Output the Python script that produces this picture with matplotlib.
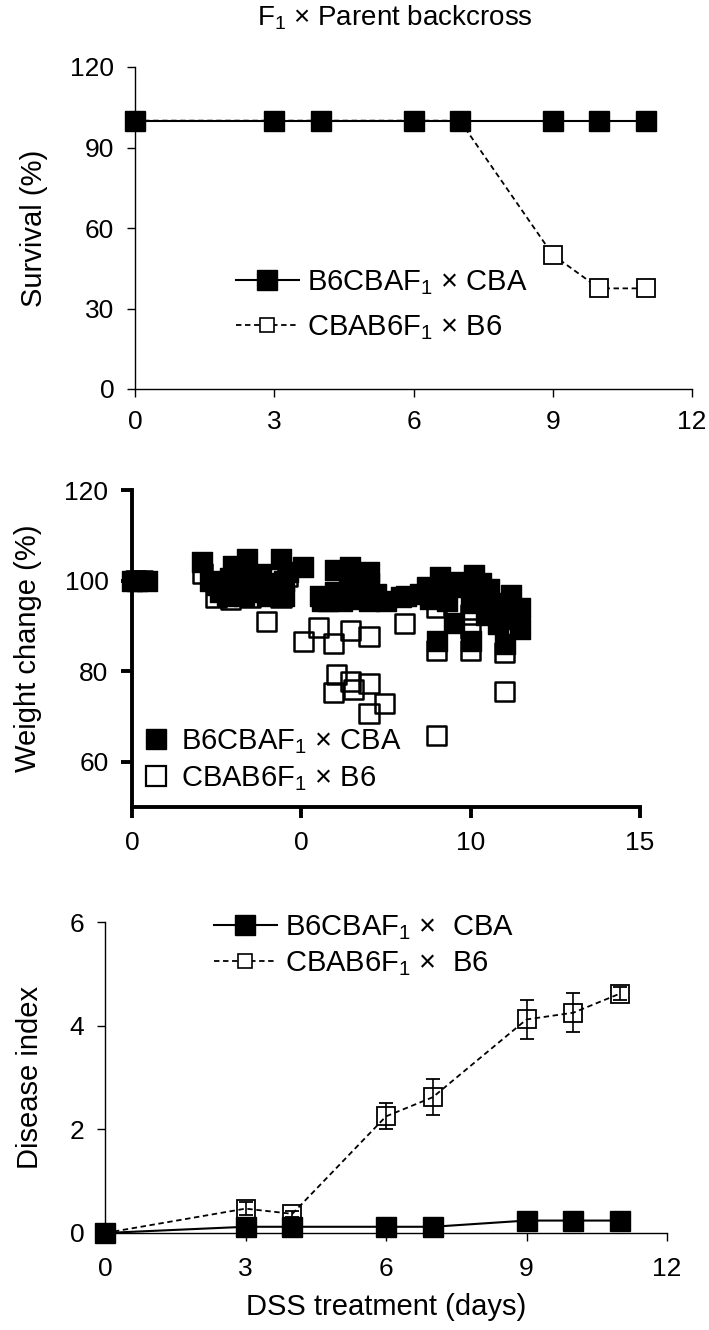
import matplotlib
matplotlib.use('Agg')
import matplotlib.pyplot as plt
from matplotlib.lines import Line2D

plt.rcParams['font.family'] = ['Liberation Sans', 'DejaVu Sans']
plt.rcParams['mathtext.default'] = 'regular'
plt.rcParams['font.size'] = 19

# survival (top panel)
days = [0, 3, 4, 6, 7, 9, 10, 11]
surv_b6cba = [100, 100, 100, 100, 100, 100, 100, 100]
surv_cbab6 = [100, 100, 100, 100, 100, 50, 37.5, 37.5]

# weight change scatter (middle panel)
wt_b6cba_x = [0, 0.15, 0.45,
              2.07, 2.98, 3.4, 4.4, 5.05, 2.5, 2.6, 2.9, 3.0, 3.2, 3.5, 3.6, 3.8, 4.0, 4.2,
              4.5, 4.4, 2.8, 3.3, 4.0, 4.5, 2.3, 4.6,
              6.0, 6.45, 7.0, 5.55, 5.8, 6.0, 6.2, 6.5, 6.6, 6.8, 7.0, 7.2, 7.5, 5.6, 6.4, 7.0,
              7.95, 8.1,
              9.1, 10.1, 8.7, 9.5, 10.55, 11.2, 11.45, 11.45, 10.45, 9.5, 10.8, 9.0, 10.0, 11.0,
              8.5, 9.0, 9.8, 10.2, 10.0, 10.7, 11.0, 9.3, 8.8, 10.3, 11.0]
wt_b6cba_y = [100, 100, 100,
              104.2, 103.3, 104.8, 104.8, 102.9, 99, 97.5, 100.5, 98, 101, 99, 97.5, 101.5, 99.5, 98,
              100, 97.5, 96.5, 96.5, 96.5, 96.7, 100, 102,
              102.4, 103.1, 102, 96.5, 95.5, 97.5, 95.5, 96, 98.5, 97, 95.5, 97, 95.5, 95.5, 99.5, 99.5,
              96.3, 96.7,
              100.7, 101.3, 98.5, 99.6, 98.2, 96.9, 94.0, 89.2, 92.3, 90.7, 90.5, 86.6, 86.6, 85.9,
              97, 97.5, 98.5, 97, 95, 95, 93, 95.5, 96, 99.5, 91.5]
wt_cbab6_x = [0.1, 0.3,
              2.07, 2.48, 2.92, 3.5, 4.4, 3.98, 4.6, 3.3,
              5.07, 5.5, 5.95, 6.45, 7.0, 8.05, 6.05, 5.95, 6.45, 6.55, 7.0, 7.45, 7.0,
              9.0, 10.0, 11.0, 11.0, 9.0, 9.0, 9.5, 10.0, 10.0, 11.0]
wt_cbab6_y = [100, 100,
              101.5, 96.3, 95.8, 96.2, 96.2, 91.0, 101.0, 100.5,
              86.6, 89.6, 86.1, 89.0, 87.7, 90.5, 79.3, 75.3, 77.8, 76.0, 77.3, 72.9, 70.7,
              84.6, 84.6, 84.1, 75.5, 65.8, 94, 94.5, 92.5, 89.5, 93.5]
wt_xticklabels = ['0', '0', '10', '15']

# disease index (bottom panel)
dis_b6cba = [0, 0.12, 0.12, 0.12, 0.12, 0.24, 0.24, 0.24]
dis_cbab6 = [0, 0.47, 0.37, 2.25, 2.62, 4.12, 4.25, 4.62]
dis_cbab6_err = [0, 0.12, 0.06, 0.25, 0.35, 0.38, 0.38, 0.12]

lab1 = 'B6CBAF$_1$ × CBA'
lab2 = 'CBAB6F$_1$ × B6'

W, H = 709, 1330
fig = plt.figure(figsize=(W / 100, H / 100), dpi=100)


def box(l, t, r, b):
    return [l / W, 1 - b / H, (r - l) / W, (b - t) / H]


# ---- top: survival ----
ax1 = fig.add_axes(box(135, 67, 692, 389))
ax1.plot(days, surv_cbab6, ls='--', color='black', lw=1.3, marker='s', ms=13,
         mfc='white', mec='black', mew=1.3, clip_on=False, dashes=(3, 2))
ax1.plot(days, surv_b6cba, ls='-', color='black', lw=1.5, marker='s', ms=14,
         mfc='black', mec='black', clip_on=False)
ax1.set_xlim(0, 12)
ax1.set_ylim(0, 120)
ax1.set_xticks([0, 3, 6, 9, 12])
ax1.set_yticks([0, 30, 60, 90, 120])
ax1.set_ylabel('Survival (%)', fontsize=21)
ax1.yaxis.set_label_coords(-0.156, 0.5)
h1 = [Line2D([], [], color='black', lw=1.5, marker='s', ms=14, mfc='black'),
      Line2D([], [], color='black', lw=1.3, ls='--', dashes=(3, 2), marker='s', ms=10,
             mfc='white', mew=1.2)]
ax1.legend(h1, [lab1, lab2], loc='center left', bbox_to_anchor=(0.181, 0.261),
           frameon=False, fontsize=21, borderpad=0, borderaxespad=0,
           handlelength=2.15, handletextpad=0.3, labelspacing=0.55)
fig.text(395 / W, 1 - 18 / H, 'F$_1$ × Parent backcross', ha='center', va='center', fontsize=20)

# ---- middle: weight change ----
ax2 = fig.add_axes(box(132, 490, 640, 807))
ax2.scatter(wt_cbab6_x, wt_cbab6_y, marker='s', s=190, facecolors='none',
            edgecolors='black', linewidths=1.8, clip_on=False, zorder=2)
ax2.scatter(wt_b6cba_x, wt_b6cba_y, marker='s', s=190, facecolors='black',
            edgecolors='black', linewidths=1.0, clip_on=False, zorder=3)
ax2.set_xlim(0, 15)
ax2.set_ylim(50, 120)
ax2.set_xticks([0, 5, 10, 15])
ax2.set_xticklabels(wt_xticklabels)
ax2.set_yticks([60, 80, 100, 120])
ax2.set_ylabel('Weight change (%)', fontsize=21)
ax2.yaxis.set_label_coords(-0.178, 0.5)
for s in ['left', 'bottom']:
    ax2.spines[s].set_linewidth(2.8)
ax2.tick_params(width=2.8, length=8, pad=9)
h2 = [Line2D([], [], ls='none', marker='s', ms=14, mfc='black', mec='black'),
      Line2D([], [], ls='none', marker='s', ms=14, mfc='white', mec='black', mew=1.6)]
ax2.legend(h2, [lab1, lab2], loc='center left', bbox_to_anchor=(0.018, 0.148),
           frameon=False, fontsize=21, borderpad=0, borderaxespad=0,
           handlelength=1.0, handletextpad=0.38, labelspacing=0.25)

# ---- bottom: disease index ----
ax3 = fig.add_axes(box(105, 922, 667, 1233))
ax3.plot(days, dis_b6cba, ls='-', color='black', lw=1.5, marker='s', ms=14,
         mfc='black', mec='black', clip_on=False, zorder=2)
ax3.errorbar(days, dis_cbab6, yerr=dis_cbab6_err, ls='--', dashes=(3, 2), color='black',
             lw=1.3, marker='s', ms=13, mfc='none', mec='black', mew=1.3,
             ecolor='black', elinewidth=1.2, capsize=5, clip_on=False, zorder=3)
ax3.set_xlim(0, 12)
ax3.set_ylim(0, 6)
ax3.set_xticks([0, 3, 6, 9, 12])
ax3.set_yticks([0, 2, 4, 6])
ax3.set_ylabel('Disease index', fontsize=21)
ax3.yaxis.set_label_coords(-0.108, 0.5)
ax3.set_xlabel('DSS treatment (days)', fontsize=21, labelpad=9)
h3 = [Line2D([], [], color='black', lw=1.5, marker='s', ms=14, mfc='black'),
      Line2D([], [], color='black', lw=1.3, ls='--', dashes=(3, 2), marker='s', ms=10,
             mfc='white', mew=1.2)]
ax3.legend(h3, ['B6CBAF$_1$ ×  CBA', 'CBAB6F$_1$ ×  B6'], loc='center left',
           bbox_to_anchor=(0.194, 0.923), frameon=False, fontsize=21, borderpad=0,
           borderaxespad=0, handlelength=2.15, handletextpad=0.3, labelspacing=0.25)

for ax in (ax1, ax3):
    ax.spines['top'].set_visible(False)
    ax.spines['right'].set_visible(False)
    ax.tick_params(direction='out', length=6, width=1, pad=9)
    for s in ['left', 'bottom']:
        ax.spines[s].set_linewidth(1.0)
ax3.tick_params(axis='x', pad=11)
ax2.spines['top'].set_visible(False)
ax2.spines['right'].set_visible(False)

fig.savefig('out.png', dpi=100)
